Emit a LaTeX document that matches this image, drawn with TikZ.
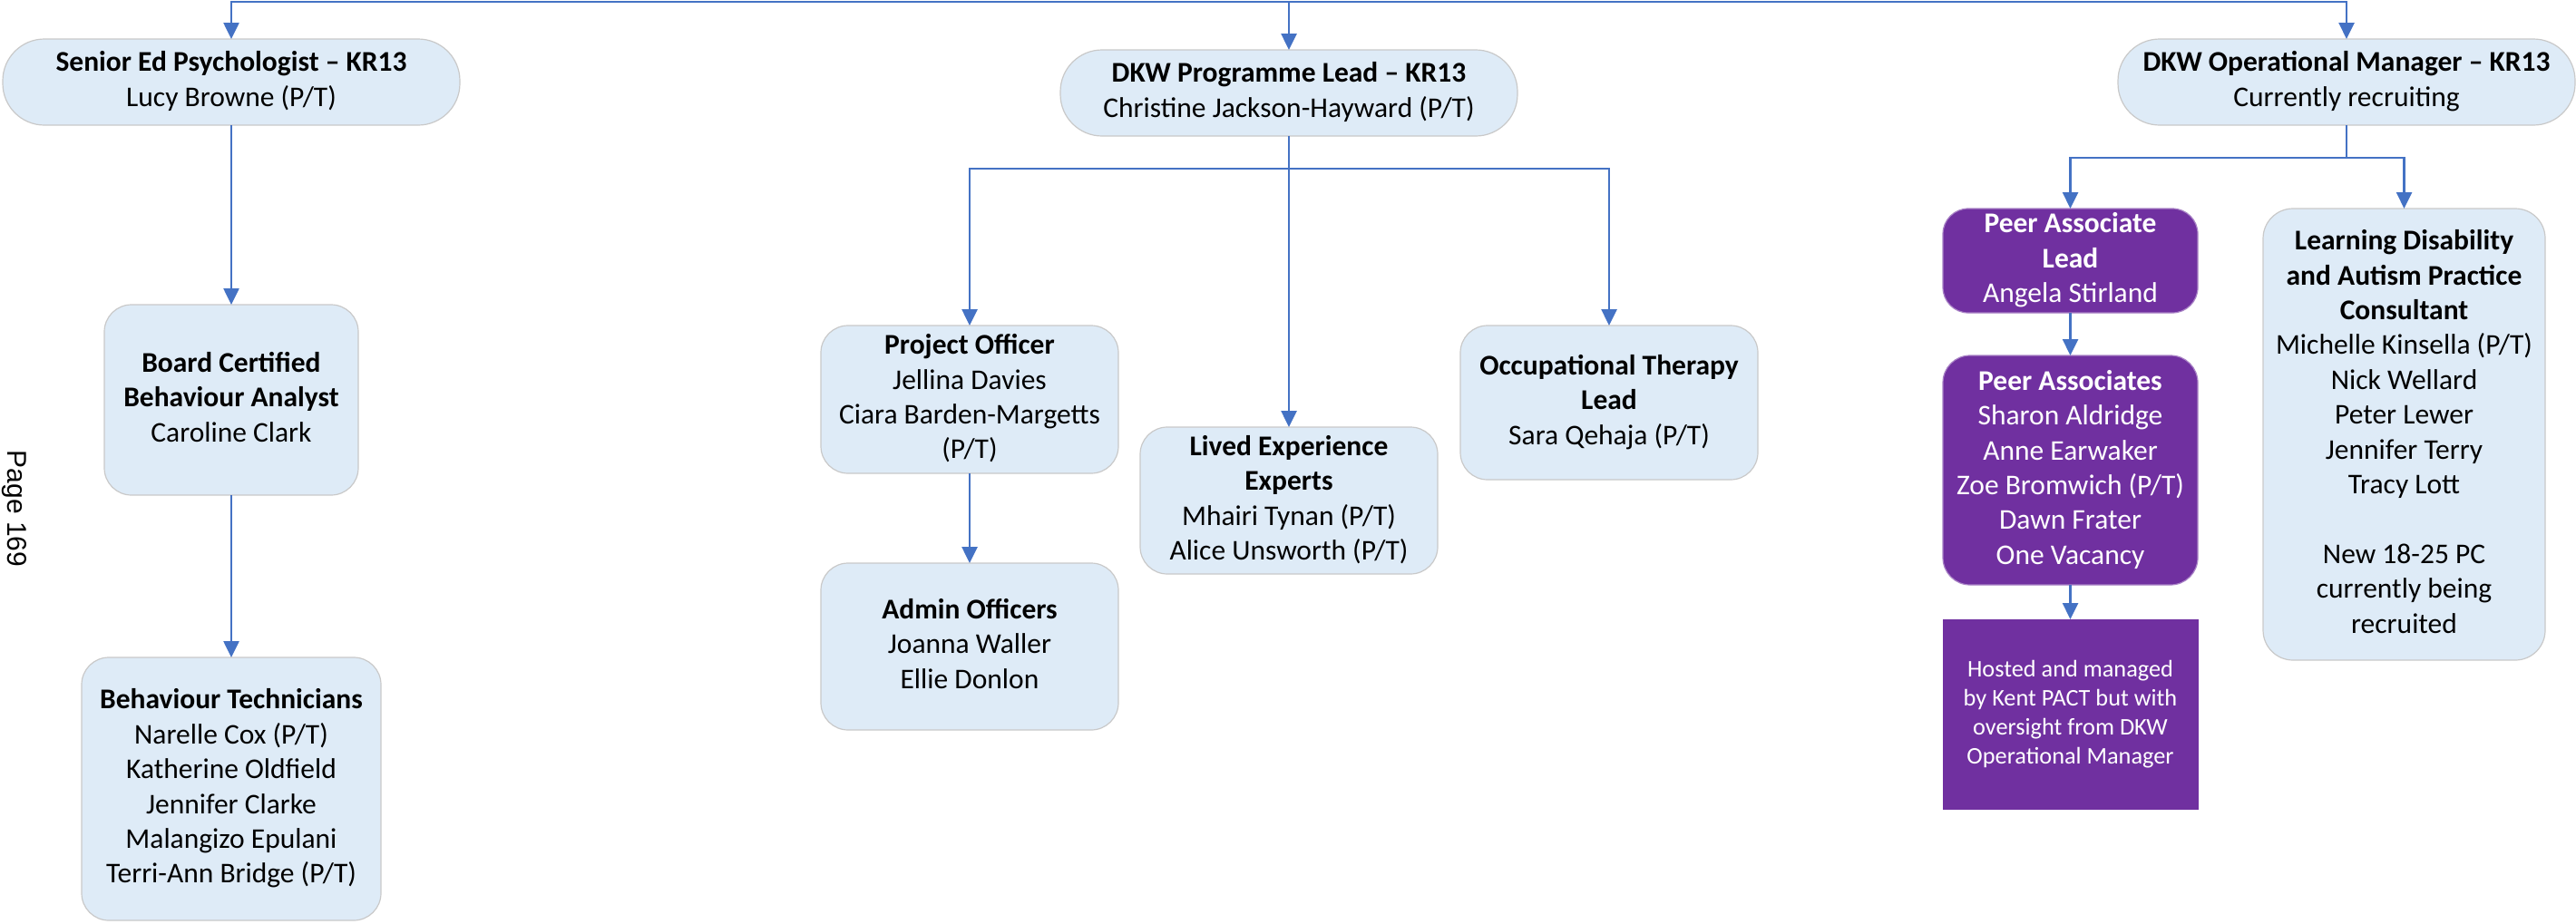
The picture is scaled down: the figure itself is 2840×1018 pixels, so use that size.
\documentclass[tikz,border=0pt]{standalone}
\usepackage{fontspec}
\setmainfont{Carlito}
\newfontfamily\arialf{Liberation Sans}
\usetikzlibrary{arrows.meta}
\definecolor{lnblue}{HTML}{4472C4}
\definecolor{boxfill}{HTML}{DEEBF7}
\definecolor{boxline}{HTML}{C9C9C9}
\definecolor{purp}{HTML}{7030A0}
\newcommand\mystrut{\rule[-6.5pt]{0pt}{38.4pt}}
\newcommand\mysmallstrut{\rule[-5.5pt]{0pt}{32pt}}
\begin{document}
\begin{tikzpicture}[x=1pt,y=1pt,
  card/.style={draw=boxline, line width=1.2pt, fill=boxfill, rounded corners=30pt,
    inner sep=0pt, outer sep=0pt, align=center, text=black,
    font=\fontsize{31.5}{38.4}\selectfont,
    execute at begin node=\mystrut, execute at end node=\mystrut},
  headcard/.style={card, rounded corners=46pt, font=\fontsize{31.5}{39}\selectfont},
  purpcard/.style={card, fill=purp, draw=purp!60, text=white},
  notebox/.style={fill=purp, draw=none, inner sep=0pt, outer sep=0pt, align=center,
    text=white, font=\fontsize{26.3}{32}\selectfont,
    execute at begin node=\mysmallstrut, execute at end node=\mysmallstrut},
  conn/.style={draw=lnblue, line width=2.6pt, -{Triangle[length=18pt,width=17pt]}},
  plainline/.style={draw=lnblue, line width=2.6pt}
]
\useasboundingbox (0,0) rectangle (2840,-1018);

% top level
\node[headcard, minimum width=504pt, minimum height=95pt] (senior) at (255,-90.5)
  {\textbf{Senior Ed Psychologist – KR13}\\Lucy Browne (P/T)};
\node[headcard, minimum width=504pt, minimum height=95pt] (prog) at (1421,-102.5)
  {\textbf{DKW Programme Lead – KR13}\\Christine Jackson-Hayward (P/T)};
\node[headcard, minimum width=504pt, minimum height=95pt] (opm) at (2587,-90.5)
  {\textbf{DKW Operational Manager – KR13}\\Currently recruiting};

% left column
\node[card, minimum width=280pt, minimum height=210pt] (bcba) at (255,-441)
  {\textbf{Board Certified}\\\textbf{Behaviour Analyst}\\Caroline Clark};
\node[card, minimum width=330pt, minimum height=290pt] (bt) at (255,-870)
  {\textbf{Behaviour Technicians}\\Narelle Cox (P/T)\\Katherine Oldfield\\Jennifer Clarke\\Malangizo Epulani\\Terri-Ann Bridge (P/T)};

% middle column
\node[card, minimum width=328pt, minimum height=163pt] (po) at (1069,-440.5)
  {\textbf{Project Officer}\\Jellina Davies\\Ciara Barden-Margetts\\(P/T)};
\node[card, minimum width=328pt, minimum height=184pt] (admin) at (1069,-713)
  {\textbf{Admin Officers}\\Joanna Waller\\Ellie Donlon};
\node[card, minimum width=328pt, minimum height=162pt] (lived) at (1421,-552)
  {\textbf{Lived Experience}\\\textbf{Experts}\\Mhairi Tynan (P/T)\\Alice Unsworth (P/T)};
\node[card, minimum width=328pt, minimum height=170pt] (ot) at (1774,-444)
  {\textbf{Occupational Therapy}\\\textbf{Lead}\\Sara Qehaja (P/T)};

% right column
\node[purpcard, minimum width=281pt, minimum height=115pt, rounded corners=28pt] (pal) at (2282.5,-287.5)
  {\textbf{Peer Associate}\\\textbf{Lead}\\Angela Stirland};
\node[purpcard, minimum width=281pt, minimum height=253pt] (pa) at (2282.5,-518.5)
  {\textbf{Peer Associates}\\Sharon Aldridge\\Anne Earwaker\\Zoe Bromwich (P/T)\\Dawn Frater\\One Vacancy};
\node[notebox, minimum width=282pt, minimum height=210pt] (hosted) at (2282.5,-788)
  {Hosted and managed\\by Kent PACT but with\\oversight from DKW\\Operational Manager};
\node[card, minimum width=311pt, minimum height=498pt, rounded corners=33pt] (ldap) at (2650.5,-479)
  {\textbf{Learning Disability}\\\textbf{and Autism Practice}\\\textbf{Consultant}\\Michelle Kinsella (P/T)\\Nick Wellard\\Peter Lewer\\Jennifer Terry\\Tracy Lott\\ \\New 18-25 PC\\currently being\\recruited};

% page label
\node[rotate=-90, font=\arialf\fontsize{30}{36}\selectfont, inner sep=0pt] (page) at (16,-561) {Page 169};

% connectors
\coordinate (top) at (1421,-2);
\coordinate (pj) at (1421,-186);
\coordinate (oj) at (2587,-174);

\draw[conn] (top) -| (senior.north);
\draw[conn] (top) -- (prog.north);
\draw[conn] (top) -| (opm.north);

\draw[conn] (senior.south) -- (bcba.north);
\draw[conn] (bcba.south) -- (bt.north);

\draw[plainline] (prog.south) -- (pj);
\draw[conn] (pj) -| (po.north);
\draw[conn] (pj) -- (lived.north);
\draw[conn] (pj) -| (ot.north);
\draw[conn] (po.south) -- (admin.north);

\draw[plainline] (opm.south) -- (oj);
\draw[conn] (oj) -| (pal.north);
\draw[conn] (oj) -| (ldap.north);
\draw[conn] (pal.south) -- (pa.north);
\draw[conn] (pa.south) -- (hosted.north);
\end{tikzpicture}
\end{document}
